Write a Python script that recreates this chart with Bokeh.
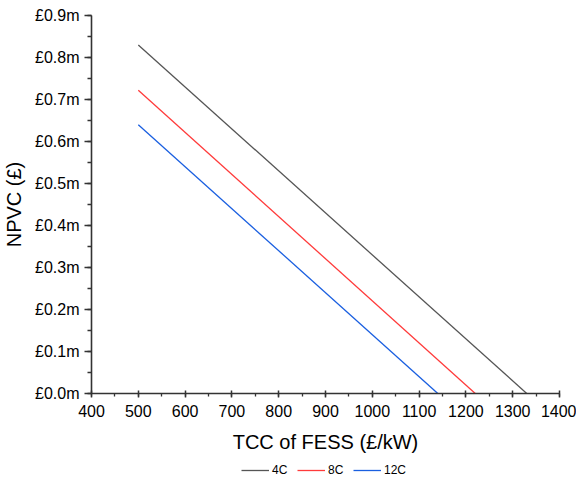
from bokeh.plotting import figure
from bokeh.layouts import column
from bokeh.models import (Range1d, SingleIntervalTicker, PrintfTickFormatter,
                          Legend, LegendItem, ColumnDataSource)
from bokeh.embed import file_html
from bokeh.resources import INLINE

# Data (NPVC in £ million vs TCC of FESS in £/kW)
series_names = ["4C", "8C", "12C"]
tcc_4c = [500, 1330]
npvc_4c = [0.830, 0.0]
tcc_8c = [500, 1220]
npvc_8c = [0.722, 0.0]
tcc_12c = [500, 1140]
npvc_12c = [0.640, 0.0]
colors = ["#555555", "#ff3b3b", "#1a5fe0"]

FONT = "Liberation Sans"
LEG_H = 21

series = [(tcc_4c, npvc_4c, colors[0]), (tcc_8c, npvc_8c, colors[1]),
          (tcc_12c, npvc_12c, colors[2])]

p = figure(width=576, height=479 - LEG_H, output_backend="svg", toolbar_location=None,
           x_range=Range1d(400, 1400), y_range=Range1d(0, 0.9),
           min_border_left=89, min_border_right=17, min_border_top=15,
           min_border_bottom=86 - LEG_H)
p.outline_line_color = None
p.xgrid.visible = False
p.ygrid.visible = False
p.background_fill_color = "white"
p.border_fill_color = "white"

for xs, ys, c in series:
    src = ColumnDataSource(dict(x=xs, y=ys))
    p.line("x", "y", source=src, line_color=c, line_width=1.3)

xax = p.xaxis[0]
yax = p.yaxis[0]
xax.ticker = SingleIntervalTicker(interval=100, num_minor_ticks=2)
yax.ticker = SingleIntervalTicker(interval=0.1, num_minor_ticks=2)
yax.formatter = PrintfTickFormatter(format="£%.1fm")

for ax in (xax, yax):
    ax.axis_line_color = "#333333"
    ax.axis_line_width = 1.6
    ax.major_tick_line_color = "#333333"
    ax.minor_tick_line_color = "#333333"
    ax.major_tick_line_width = 1.5
    ax.minor_tick_line_width = 1.3
    ax.major_tick_in = 0
    ax.minor_tick_in = 0
    ax.major_label_text_font = FONT
    ax.major_label_text_font_size = "16px"
    ax.major_label_text_color = "black"
    ax.axis_label_text_font = FONT
    ax.axis_label_text_font_size = "20px"
    ax.axis_label_text_font_style = "normal"
    ax.axis_label_text_color = "black"

yax.major_tick_out = 7
yax.minor_tick_out = 4
xax.major_tick_out = 4
xax.major_tick_in = 3
xax.minor_tick_out = 3
xax.axis_label = "TCC of FESS (£/kW)"
yax.axis_label = "NPVC (£)"
xax.major_label_standoff = 7
yax.major_label_standoff = 5
xax.axis_label_standoff = 11
yax.axis_label_standoff = 7

# Legend strip below the chart (its lines lie outside its own ranges)
lf = figure(width=576, height=LEG_H, output_backend="svg", toolbar_location=None,
            x_axis_type=None, y_axis_type=None, min_border=0,
            x_range=Range1d(0, 1), y_range=Range1d(0, 1))
lf.outline_line_color = None
lf.xgrid.visible = False
lf.ygrid.visible = False
leg_renderers = []
for xs, ys, c in series:
    leg_renderers.append(lf.line(x=xs, y=ys, line_color=c, line_width=1.3))

legend = Legend(items=[LegendItem(label=n, renderers=[r]) for n, r in zip(series_names, leg_renderers)],
                orientation="horizontal", location=(150, 2),
                label_text_font=FONT, label_text_font_size="12px",
                label_text_color="black",
                label_height=14, glyph_width=28, glyph_height=14, spacing=5, padding=0,
                label_standoff=3, border_line_color=None, margin=0,
                background_fill_alpha=0)
lf.add_layout(legend)

open("out.html", "w").write(file_html(column(p, lf, spacing=0), INLINE))
